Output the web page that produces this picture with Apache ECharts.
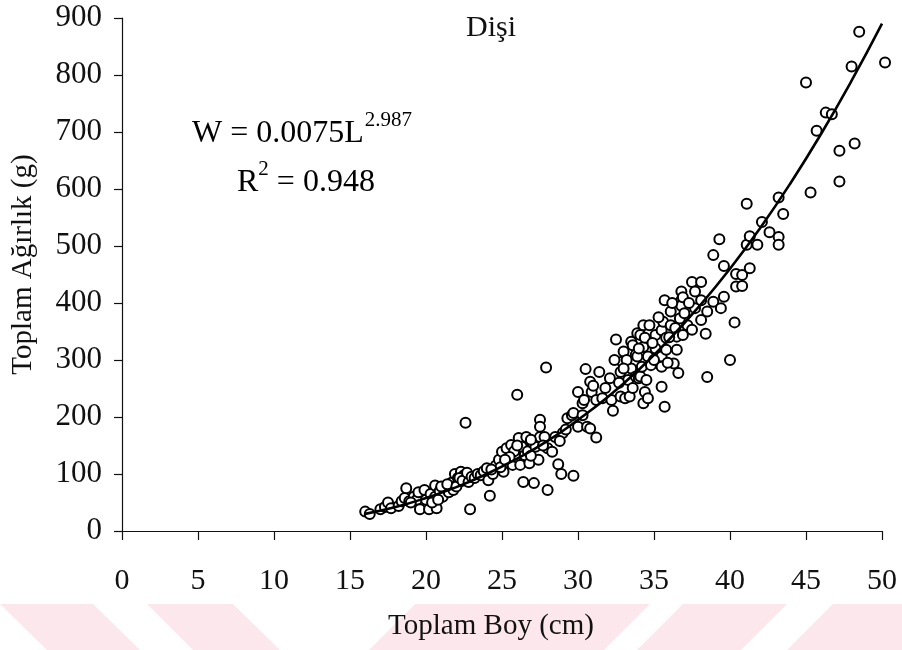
<!DOCTYPE html>
<html>
<head>
<meta charset="utf-8">
<script src="https://cdn.jsdelivr.net/npm/echarts@6/dist/echarts.min.js"></script>
<style>
html,body{margin:0;padding:0;background:#fff;}
#chart{width:902px;height:650px;}
</style>
</head>
<body>
<div id="chart"></div>
<script>
// ---- data ----
var titleText = 'Dişi';
var xAxisName = 'Toplam Boy (cm)';
var yAxisName = 'Toplam Ağırlık (g)';
var xTicks = [0, 5, 10, 15, 20, 25, 30, 35, 40, 45, 50];
var yTicks = [0, 100, 200, 300, 400, 500, 600, 700, 800, 900];

// observed fish: [total length (cm), total weight (g)]
var observedLow = [
  [16.0,34],[16.3,30],[17.0,38],[17.3,42],[17.5,50],[17.7,40],[18.2,44],[18.4,52],
  [18.6,58],[18.7,75],[18.9,52],[19.2,60],[19.4,55],[19.5,68],[19.6,38],[19.9,72],
  [20.0,55],[20.2,38],[20.3,65],[20.6,80],[20.6,60],[20.7,40],[20.9,70],[21.1,60],
  [21.3,75],[21.5,68],[21.7,85],[21.9,100],[22.1,84],[22.1,93],[22.3,104],[22.5,98],
  [22.6,190],[22.9,38],[21.0,78],[20.4,50],[21.8,72],[19.0,50],[21.4,82],[22.0,78],
  [20.8,55]
];
var observedMid = [
  [22.2,93],[22.4,88],[22.7,102],[22.8,86],[23.0,95],[23.2,93],[23.4,100],[23.6,98],
  [23.8,105],[24.0,110],[24.1,89],[24.2,62],[24.4,100],[24.6,115],[24.8,125],[25.0,139],
  [25.1,104],[25.3,145],[25.4,120],[25.6,151],[25.7,116],[25.9,130],[26.0,239],[26.1,163],
  [26.2,116],[26.3,148],[26.4,86],[26.5,133],[26.6,165],[26.7,140],[26.8,119],[27.0,155],
  [27.1,84],[27.2,148],[27.4,125],[27.5,195],[27.5,183],[27.5,165],[27.8,165],[27.9,287],
  [28.0,145],[28.0,72],[28.3,139],[28.5,165],[28.7,117],[28.9,100],[29.0,172],[29.3,198],
  [29.6,203],[29.7,97],[29.7,207],[30.0,183],[30.0,244],[30.3,203],[30.3,224],[30.5,284],
  [25.8,140],[26.9,132],[28.8,158],[29.2,178],[24.9,112],[27.7,150],[24.3,108],[25.5,130],
  [26.0,150],[26.9,160],[25.2,125]
];
var observedHigh = [
  [30.4,230],[30.6,183],[30.8,180],[30.8,262],[30.9,244],[31.2,164],[31.2,230],[31.4,279],
  [31.6,233],[31.8,251],[32.1,268],[32.2,230],[32.3,211],[32.5,336],[32.8,279],[32.8,236],
  [32.9,297],[33.0,315],[33.1,233],[33.3,265],[33.4,236],[33.5,332],[33.5,285],[33.6,326],
  [33.6,251],[33.8,309],[33.8,271],[33.9,347],[33.9,306],[34.0,268],[34.1,344],[34.1,271],
  [34.2,288],[34.3,361],[34.3,323],[34.3,224],[34.4,339],[34.4,244],[34.5,265],[34.6,306],
  [34.6,233],[34.7,361],[34.8,291],[35.1,344],[35.1,320],[35.5,352],[35.5,306],[35.5,288],
  [35.5,253],[35.6,367],[35.7,405],[35.7,218],[35.8,339],[35.8,318],[36.1,385],[36.1,361],
  [36.3,294],[36.4,356],[36.5,341],[36.5,318],[36.6,277],[36.7,373],[36.8,420],[36.8,405],
  [36.8,395],[36.9,344],[37.0,382],[37.2,361],[37.5,437],[37.5,353],[37.7,420],[37.7,391],
  [38.1,437],[38.1,405],[38.1,370],[38.4,346],[38.5,385],[38.5,270],[32.4,300],[31.0,255],
  [33.2,300],[34.9,330],[35.3,375],[36.0,340],[36.2,400],[35.0,300],[34.0,320],[36.9,410],
  [37.3,400],[33.0,285],[32.7,260],[35.9,295]
];
var observedLarge = [
  [38.9,402],[38.9,484],[39.3,512],[39.4,391],[39.6,411],[39.6,465],[40.0,300],[40.3,366],
  [40.4,451],[40.4,429],[40.8,449],[40.8,430],[41.1,574],[41.1,502],[41.3,517],[41.3,461],
  [41.8,502],[42.1,542],[42.6,524],[43.2,585],[43.2,516],[43.2,502],[43.5,556],[45.0,787],
  [45.3,594],[45.7,702],[46.3,734],[46.7,731],[47.2,667],[47.2,613],[48.0,815],[48.2,680],
  [48.5,876],[50.2,822]
];
// fitted curve W = 0.0075 L^2.987
var curveL = [16, 18, 20, 22, 24, 26, 28, 30, 32, 34, 36, 38, 40, 42, 44, 46, 48, 50];
var curveW = [30, 42, 58, 77, 100, 127, 158, 195, 236, 283, 336, 395, 460, 532, 611, 697, 790, 890];

// ---- chart ----
var serif = 'Liberation Serif, Times New Roman, serif';
var observed = observedLow.concat(observedMid, observedHigh, observedLarge);
var curve = curveL.map(function (l, i) { return [l, curveW[i]]; });

var chart = echarts.init(document.getElementById('chart'), null, {renderer: 'canvas'});
var pink = '#fce8ec';
chart.setOption({
  backgroundColor: '#ffffff',
  animation: false,
  title: {
    text: titleText,
    left: 461, top: 8,
    textStyle: {fontFamily: serif, fontSize: 30, fontWeight: 'normal', color: '#111'}
  },
  grid: {left: 122, right: 20, top: 18, bottom: 119},
  xAxis: {
    type: 'value', min: 0, max: 50, interval: 5,
    name: xAxisName, nameLocation: 'middle', nameGap: 81,
    nameTextStyle: {fontFamily: serif, fontSize: 29, color: '#111', padding: [0, 22, 0, 0]},
    axisLine: {show: true, onZero: false, lineStyle: {color: '#111', width: 1.2}},
    axisTick: {show: true, inside: false, length: 9, lineStyle: {color: '#111', width: 1.2}},
    axisLabel: {margin: 35, fontFamily: serif, fontSize: 30, color: '#111'},
    splitLine: {show: false}
  },
  yAxis: {
    type: 'value', min: 0, max: 900, interval: 100,
    name: yAxisName, nameLocation: 'middle', nameGap: 84,
    nameTextStyle: {fontFamily: serif, fontSize: 29, color: '#111', padding: [0, 0, 0, 20]},
    axisLine: {show: true, onZero: false, lineStyle: {color: '#111', width: 1.2}},
    axisTick: {show: true, inside: false, length: 8, lineStyle: {color: '#111', width: 1.2}},
    axisLabel: {margin: 20, fontFamily: serif, fontSize: 31, color: '#111'},
    splitLine: {show: false}
  },
  graphic: [
    {type: 'polygon', silent: true, z: -10, shape: {points: [[0,604],[93,604],[140,650],[47,650]]}, style: {fill: pink}},
    {type: 'polygon', silent: true, z: -10, shape: {points: [[147,604],[233,604],[280,650],[193,650]]}, style: {fill: pink}},
    {type: 'polygon', silent: true, z: -10, shape: {points: [[415,604],[650,604],[604,650],[369,650]]}, style: {fill: pink}},
    {type: 'polygon', silent: true, z: -10, shape: {points: [[683,604],[787,604],[741,650],[637,650]]}, style: {fill: pink}},
    {type: 'polygon', silent: true, z: -10, shape: {points: [[833,604],[902,604],[902,650],[787,650]]}, style: {fill: pink}},
    {
      type: 'text', left: 192, top: 110, z: 10,
      style: {
        text: '{m|W = 0.0075L}{s|2.987}',
        rich: {
          m: {fontFamily: serif, fontSize: 32, color: '#111', lineHeight: 40, verticalAlign: 'bottom'},
          s: {fontFamily: serif, fontSize: 21, color: '#111', lineHeight: 40, verticalAlign: 'top', padding: [0, 0, 0, 1]}
        }
      }
    },
    {
      type: 'text', left: 237, top: 159, z: 10,
      style: {
        text: '{m|R}{s|2}{m| = 0.948}',
        rich: {
          m: {fontFamily: serif, fontSize: 32, color: '#111', lineHeight: 40, verticalAlign: 'bottom'},
          s: {fontFamily: serif, fontSize: 21, color: '#111', lineHeight: 40, verticalAlign: 'top'}
        }
      }
    }
  ],
  series: [
    {
      type: 'scatter', data: observed, symbol: 'circle', symbolSize: 10, clip: false,
      itemStyle: {color: '#ffffff', borderColor: '#000', borderWidth: 2, opacity: 1},
      z: 2
    },
    {
      type: 'line', data: curve, smooth: true, showSymbol: false, symbol: 'none',
      lineStyle: {color: '#000', width: 2.6}, z: 3
    }
  ]
});
</script>
</body>
</html>
